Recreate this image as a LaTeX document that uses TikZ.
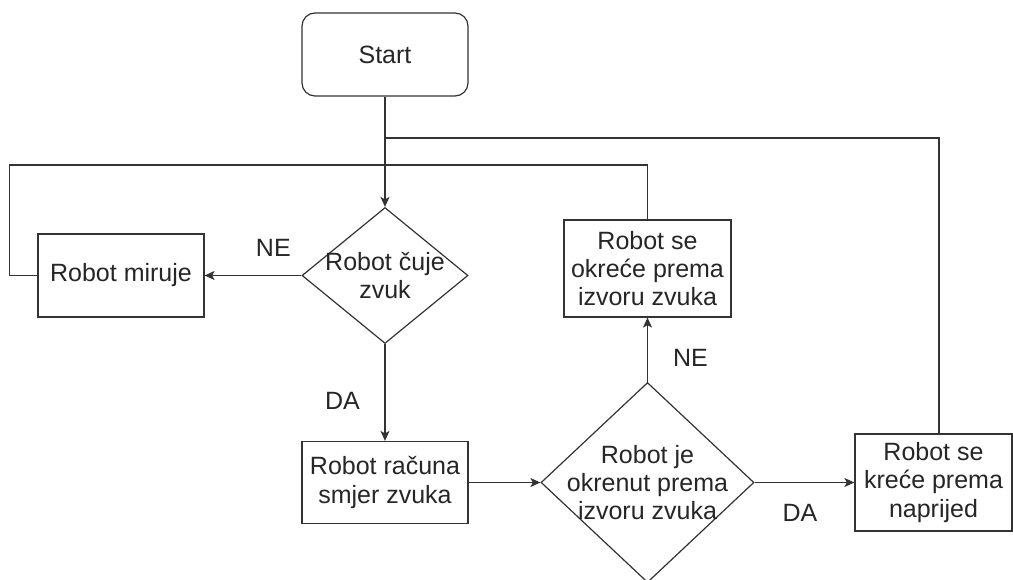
\documentclass[tikz,border=0pt]{standalone}
\usepackage{fontspec}
\setmainfont{Liberation Sans}
\usetikzlibrary{arrows.meta,shapes.geometric,positioning}

\tikzset{
  box/.style={draw,align=center,minimum width=166pt,minimum height=83pt,inner sep=0pt},
  term/.style={box,rounded corners=13pt},
  rhomb/.style={draw,shape=diamond,align=center,aspect=1.2,inner xsep=-28pt,inner ysep=-12pt},
  lbl/.style={inner sep=0pt}
}

\begin{document}
\begin{tikzpicture}[x=1pt,y=-1pt,>={Stealth[length=10pt,width=9pt,inset=2.5pt]},
    line width=1.2pt,draw=black!80,every node/.append style={font=\fontsize{25}{28.4}\selectfont,text=black!85}]

  \path[use as bounding box,fill=white] (0,0) rectangle (1013,580);

  \node[term] (start) at (385,54.5) {Start};

  \node[rhomb,minimum width=166pt,minimum height=136pt] (cuje) at (385,275.5) {Robot čuje\\zvuk};
  \node[box] (miruje) at (121,275.5) {Robot miruje};
  \node[box,minimum height=82pt] (racuna) at (385,482.5) {Robot računa\\smjer zvuka};

  \node[rhomb,minimum width=213pt,minimum height=200pt] (okrenut) at (647.5,482.5) {Robot je\\okrenut prema\\izvoru zvuka};
  \node[box,minimum width=167pt,minimum height=97pt] (okrece) at (647.5,268.5) {Robot se\\okreće prema\\izvoru zvuka};
  \node[box,minimum width=157pt,minimum height=97pt] (krece) at (933.5,482.5) {Robot se\\kreće prema\\naprijed};

  \coordinate (lijevo) at (9.5,165);
  \coordinate (desno) at (939,138);

  % povratne linije
  \draw (krece.north -| desno) -- (desno) -- (start.south |- desno);
  \draw (miruje.west) -| (lijevo) -| (okrece.north);

  \draw[->] (start.south) -- (cuje.north);
  \draw[->] (cuje.west) -- node[lbl,above=18pt,pos=0.29] {NE} (miruje.east);
  \draw[->] (cuje.south) -- node[lbl,left=24.5pt,pos=0.586] {DA} (racuna.north);
  \draw[->] (racuna.east) -- (okrenut.west);
  \draw[->] (okrenut.north) -- node[lbl,right=25pt,pos=0.37] {NE} (okrece.south);
  \draw[->] (okrenut.east) -- node[lbl,below=21pt,pos=0.455] {DA} (krece.west);

\end{tikzpicture}
\end{document}
